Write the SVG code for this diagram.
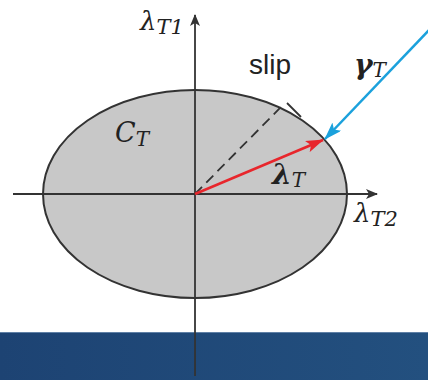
<svg xmlns="http://www.w3.org/2000/svg" width="428" height="380" viewBox="0 0 428 380">
<defs>
<linearGradient id="band" x1="0" y1="0" x2="1" y2="0">
<stop offset="0" stop-color="#1d4373"/>
<stop offset="1" stop-color="#23507f"/>
</linearGradient>
<marker id="ak" markerWidth="12" markerHeight="10" refX="11" refY="5" orient="auto" markerUnits="userSpaceOnUse"><path d="M0,0 L12,5 L0,10 L3,5 Z" fill="#333"/></marker>
<marker id="ar" markerWidth="18" markerHeight="12" refX="17" refY="6" orient="auto" markerUnits="userSpaceOnUse"><path d="M0,0 L18,6 L0,12 L4,6 Z" fill="#e8262c"/></marker>
<marker id="ab" markerWidth="18" markerHeight="12" refX="17" refY="6" orient="auto" markerUnits="userSpaceOnUse"><path d="M0,0 L18,6 L0,12 L4,6 Z" fill="#1ba1dc"/></marker>
</defs>
<style>
.m{font-family:"DejaVu Serif","Liberation Serif",serif;font-style:italic;fill:#222}
.s{font-family:"Liberation Sans",Arial,sans-serif;fill:#222}
.ax{stroke:#333;stroke-width:1.8;fill:none}
</style>
<rect width="428" height="380" fill="#fff"/>
<rect x="0" y="332" width="428" height="48" fill="url(#band)"/>
<line x1="0" y1="332.5" x2="428" y2="332.5" stroke="#5f80a6" stroke-width="1"/>
<g id="ellipse">
<ellipse cx="195" cy="194" rx="152" ry="104" fill="#c8c8c8" stroke="#333" stroke-width="2"/>
</g>
<g id="connectors">
<line class="ax" x1="195" y1="376" x2="195" y2="15" marker-end="url(#ak)"/>
<line class="ax" x1="13" y1="194" x2="377" y2="194" marker-end="url(#ak)"/>
<line x1="195" y1="194" x2="281" y2="107" stroke="#333" stroke-width="1.8" stroke-dasharray="10,6"/>
<line x1="287" y1="103" x2="301" y2="117" stroke="#333" stroke-width="1.8"/>
<line x1="195" y1="194" x2="323" y2="140" stroke="#e8262c" stroke-width="2.5" marker-end="url(#ar)"/>
<line x1="430" y1="29" x2="325" y2="139" stroke="#1ba1dc" stroke-width="2.5" marker-end="url(#ab)"/>
</g>
<g id="labels">
<text class="m" x="140" y="30" font-size="26" font-style="normal">λ<tspan font-size="21" dy="4" font-style="italic">T</tspan><tspan font-size="21">1</tspan></text>
<text class="s" x="249" y="74" font-size="28">slip</text>
<text class="m" x="354" y="74" font-size="28" font-weight="bold">γ<tspan font-size="20" dy="3" font-weight="normal">T</tspan></text>
<text class="m" x="115" y="142" font-size="27">C<tspan font-size="20" dy="4">T</tspan></text>
<text class="m" x="272" y="184" font-size="28" font-weight="bold" font-style="normal">λ<tspan font-size="20" dy="3" font-weight="normal" font-style="italic">T</tspan></text>
<text class="m" x="354" y="222" font-size="26" font-style="normal">λ<tspan font-size="21" dy="4" font-style="italic">T</tspan><tspan font-size="21">2</tspan></text>
</g>
</svg>
